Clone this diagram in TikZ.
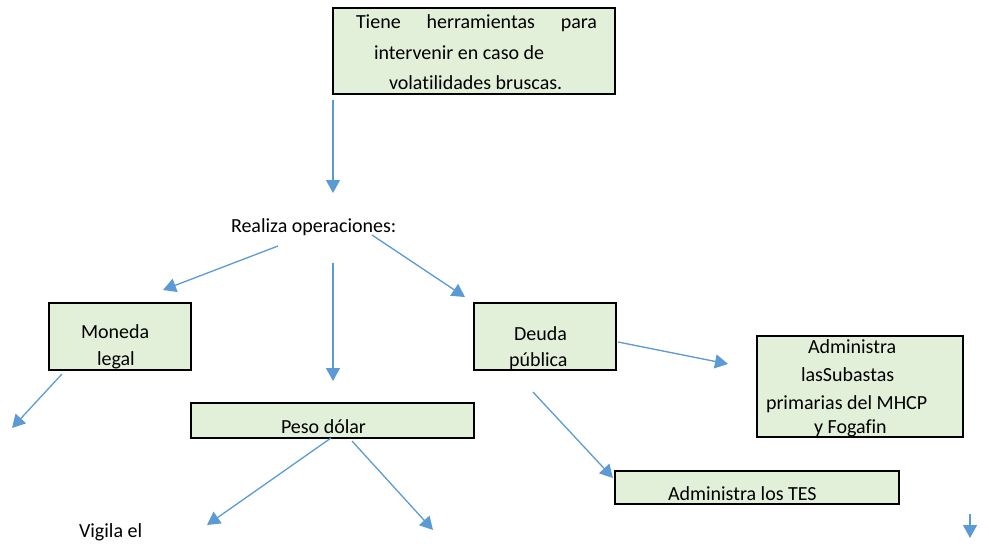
\documentclass[tikz,border=0pt]{standalone}
\usepackage{fontspec}
\setmainfont{Carlito}[Ligatures=NoCommon]
\usetikzlibrary{arrows.meta}
\definecolor{boxgreen}{HTML}{E2EFD9}
\definecolor{arrowblue}{HTML}{5B9BD5}
\tikzset{
  box/.style={draw=black, line width=1.6pt, fill=boxgreen, inner sep=0pt, outer sep=0pt, anchor=north west},
  txt/.style={anchor=base west, inner sep=0pt, outer sep=0pt, font=\fontsize{20}{29}\selectfont},
  conn/.style={draw=arrowblue, line width=1.3pt, -{Triangle[length=13pt,width=14pt]}}
}
\begin{document}
\begin{tikzpicture}[x=1pt,y=-1pt]
\useasboundingbox (0,0) rectangle (989,546);
% boxes
\node[box, minimum width=282pt, minimum height=86pt] (top) at (333,8) {};
\node[box, minimum width=142pt, minimum height=67pt] (moneda) at (49,303) {};
\node[box, minimum width=142pt, minimum height=67pt] (deuda) at (474,303) {};
\node[box, minimum width=206pt, minimum height=101pt] (subastas) at (757,336) {};
\node[box, minimum width=283pt, minimum height=35pt] (peso) at (191,403) {};
\node[box, minimum width=284pt, minimum height=33pt] (tes) at (615,471) {};
% texts
\node[txt] (t1) at (356,28) {\hbox to 241pt{Tiene\hfill herramientas\hfill para}};
\node[txt] (t2) at (374,59) {intervenir en caso de};
\node[txt] (t3) at (389,89) {volatilidades bruscas.};
\node[txt] (realiza) at (231,232) {Realiza operaciones:};
\node[txt] (m1) at (81,338) {Moneda};
\node[txt] (m2) at (97,365) {legal};
\node[txt] (d1) at (514,340) {Deuda};
\node[txt] (d2) at (509,366) {pública};
\node[txt] (s1) at (808,353) {Administra};
\node[txt] (s2) at (801,381) {lasSubastas};
\node[txt] (s3) at (766,409) {primarias del MHCP};
\node[txt] (s4) at (814,433) {y Fogafin};
\node[txt] (p1) at (281,433) {Peso dólar};
\node[txt] (tes1) at (668,500) {Administra los TES};
\node[txt] (vigila) at (79,537) {Vigila el};
% connector endpoints
\coordinate (c1s) at (333,100);  \coordinate (c1e) at (333,193);
\coordinate (c2s) at (278,246);  \coordinate (c2e) at (163,290);
\coordinate (c3s) at (333,263);  \coordinate (c3e) at (333,381);
\coordinate (c4s) at (372,235);  \coordinate (c4e) at (465,297);
\coordinate (c5s) at (62,374);   \coordinate (c5e) at (12,428);
\coordinate (c6s) at (618,342);  \coordinate (c6e) at (728,364);
\coordinate (c7s) at (533,392);  \coordinate (c7e) at (613,478);
\coordinate (c8s) at (331,438);  \coordinate (c8e) at (207,525);
\coordinate (c9s) at (352,441);  \coordinate (c9e) at (433,530);
\coordinate (c10s) at (970,514); \coordinate (c10e) at (970,538);
% connectors
\draw[conn] (c1s) -- (c1e);
\draw[conn] (c2s) -- (c2e);
\draw[conn] (c3s) -- (c3e);
\draw[conn] (c4s) -- (c4e);
\draw[conn] (c5s) -- (c5e);
\draw[conn] (c6s) -- (c6e);
\draw[conn] (c7s) -- (c7e);
\draw[conn] (c8s) -- (c8e);
\draw[conn] (c9s) -- (c9e);
\draw[conn] (c10s) -- (c10e);
\end{tikzpicture}
\end{document}
